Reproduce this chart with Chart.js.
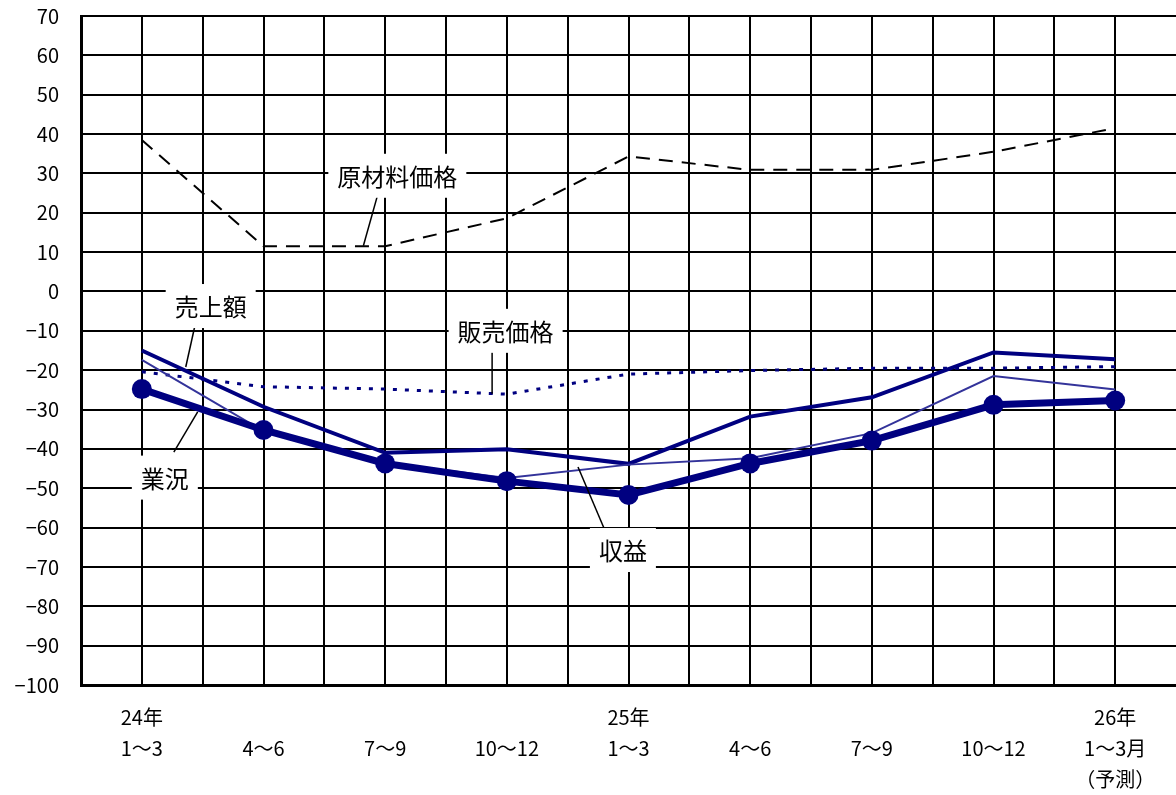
<!DOCTYPE html>
<html>
<head>
<meta charset="utf-8">
<script src="https://cdn.jsdelivr.net/npm/chart.js@4"></script>
<style>
html,body{margin:0;padding:0;background:#fff;overflow:hidden;}
canvas{display:block;}
</style>
</head>
<body>
<canvas id="c" width="1176" height="795"></canvas>
<script>
// ---- data ----
const categories = [
  ["24年", "1～3"], ["", "4～6"], ["", "7～9"], ["", "10～12"],
  ["25年", "1～3"], ["", "4～6"], ["", "7～9"], ["", "10～12"],
  ["26年", "1～3月", "（予測）"]
];
const yTicks = [70, 60, 50, 40, 30, 20, 10, 0, -10, -20, -30, -40, -50, -60, -70, -80, -90, -100];
const rawMaterialPrice = [38.5, 11.5, 11.5, 18.6, 34.3, 30.9, 30.9, 35.5, 41.5];   // 原材料価格
const sellingPrice     = [-20.4, -24.2, -24.8, -26.1, -21, -20.1, -19.5, -19.5, -19.1]; // 販売価格
const salesAmount      = [-15, -29.3, -41, -40.1, -43.8, -31.8, -26.9, -15.5, -17.2]; // 売上額
const profit           = [-17.4, -35.5, -43.5, -47.4, -44, -42.4, -36, -21.5, -24.9]; // 収益
const business         = [-24.8, -35.2, -43.7, -48.2, -51.7, -43.7, -37.9, -28.8, -27.7]; // 業況

// annotation labels (positions in data coordinates)
const labelNames = ["原材料価格", "販売価格", "売上額", "業況", "収益"];
const labelAt    = [[2.10, 29.4], [2.99, -10.0], [0.566, -3.7], [0.189, -47.3], [3.954, -65.7]];
const leaderFrom = [[1.936, 24.3], [2.879, -14.1], [0.443, -7.75], [0.263, -40.8], [3.798, -60.1]];
const leaderTo   = [[1.821, 11.6], [2.879, -26.0], [0.361, -19.2], [0.459, -30.6], [3.585, -44.6]];

const FONT = "'Noto Sans CJK JP', 'Noto Sans', sans-serif";
const toXY = arr => arr.map((v, i) => ({x: i, y: v}));

const annotPlugin = {
  id: 'annot',
  afterDatasetsDraw(chart) {
    const ctx = chart.ctx, xs = chart.scales.x, ys = chart.scales.y;
    ctx.save();
    ctx.strokeStyle = '#000';
    ctx.lineWidth = 1.5;
    for (let i = 0; i < labelNames.length; i++) {
      ctx.beginPath();
      ctx.moveTo(xs.getPixelForValue(leaderFrom[i][0]), ys.getPixelForValue(leaderFrom[i][1]));
      ctx.lineTo(xs.getPixelForValue(leaderTo[i][0]), ys.getPixelForValue(leaderTo[i][1]));
      ctx.stroke();
    }
    ctx.font = "24px " + FONT;
    ctx.textAlign = 'center';
    ctx.textBaseline = 'middle';
    for (let i = 0; i < labelNames.length; i++) {
      const cx = xs.getPixelForValue(labelAt[i][0]);
      const cy = ys.getPixelForValue(labelAt[i][1]);
      const w = ctx.measureText(labelNames[i]).width + 18;
      const h = 44;
      ctx.fillStyle = '#fff';
      ctx.fillRect(cx - w / 2, cy - h / 2, w, h);
      ctx.fillStyle = '#000';
      ctx.fillText(labelNames[i], cx, cy + 1);
    }
    ctx.restore();
  }
};

new Chart(document.getElementById('c'), {
  type: 'line',
  data: {
    datasets: [
      { label: '業況', data: toXY(business), borderColor: '#000080', backgroundColor: '#000080',
        borderWidth: 7, pointRadius: 10, pointHoverRadius: 10, pointBorderWidth: 0, tension: 0 },
      { label: '収益', data: toXY(profit), borderColor: '#33339a', borderWidth: 2, pointRadius: 0, tension: 0 },
      { label: '売上額', data: toXY(salesAmount), borderColor: '#000080', borderWidth: 4, pointRadius: 0, tension: 0 },
      { label: '販売価格', data: toXY(sellingPrice), borderColor: '#000080', borderWidth: 3,
        borderDash: [4, 8], pointRadius: 0, tension: 0 },
      { label: '原材料価格', data: toXY(rawMaterialPrice), borderColor: '#000', borderWidth: 2,
        borderDash: [14, 9], pointRadius: 0, tension: 0 }
    ]
  },
  options: {
    responsive: false,
    animation: false,
    layout: { autoPadding: false, padding: { top: 16, left: 0, right: 0, bottom: 0 } },
    plugins: { legend: { display: false }, tooltip: { enabled: false } },
    scales: {
      x: {
        type: 'linear',
        min: -0.5, max: 8.5,
        afterBuildTicks(scale) {
          const t = [];
          for (let i = -1; i <= 17; i++) t.push({ value: i / 2 });
          scale.ticks = t;
        },
        afterFit(scale) {
          scale.height = 110;
          scale.paddingLeft = 0; scale.paddingRight = 0;
          scale.paddingTop = 0; scale.paddingBottom = 0;
        },
        grid: {
          color: ctx => (ctx.tick && ctx.tick.value === 8.5) ? 'rgba(0,0,0,0)' : '#000',
          lineWidth: 2, drawTicks: false
        },
        border: { display: true, color: '#000', width: 3 },
        ticks: {
          autoSkip: false, maxRotation: 0, minRotation: 0, padding: 17,
          color: '#000', font: { family: FONT, size: 20, lineHeight: 1.55 },
          callback: v => Number.isInteger(v) && v >= 0 && v < categories.length ? categories[v] : ''
        }
      },
      y: {
        min: -100, max: 70,
        afterBuildTicks(scale) { scale.ticks = yTicks.slice().reverse().map(v => ({ value: v })); },
        afterFit(scale) {
          scale.width = 81;
          scale.paddingTop = 0; scale.paddingBottom = 0;
          scale.paddingLeft = 0; scale.paddingRight = 0;
        },
        grid: { color: '#000', lineWidth: 2, drawTicks: false },
        border: { display: true, color: '#000', width: 3 },
        ticks: {
          padding: 22, color: '#000', font: { family: FONT, size: 20 },
          callback: v => (v < 0 ? '−' + Math.abs(v) : String(v))
        }
      }
    }
  },
  plugins: [annotPlugin]
});
</script>
</body>
</html>
